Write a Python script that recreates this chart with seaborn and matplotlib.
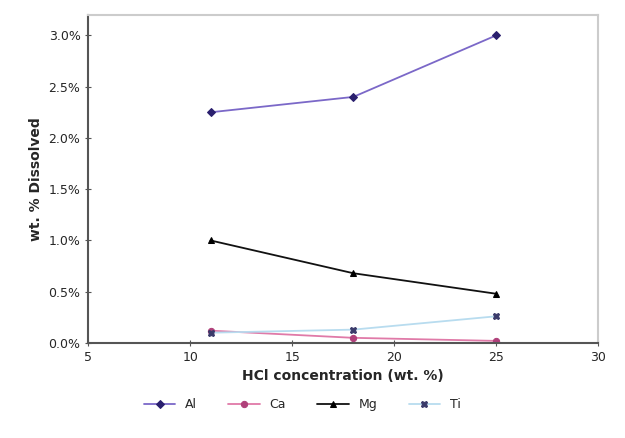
import pandas as pd
import matplotlib
matplotlib.use("Agg")
import matplotlib.pyplot as plt
import seaborn as sns
from matplotlib.ticker import PercentFormatter

# Values
hcl = [11, 18, 25]
al = [2.25, 2.40, 3.00]
ca = [0.12, 0.05, 0.02]
mg = [1.00, 0.68, 0.48]
ti = [0.10, 0.13, 0.26]

rows = []
for name, vals in [("Al", al), ("Ca", ca), ("Mg", mg), ("Ti", ti)]:
    for x, v in zip(hcl, vals):
        rows.append({"HCl": x, "value": v / 100, "metal": name})
df = pd.DataFrame(rows)

sns.set_style("white")
plt.rcParams["font.family"] = ["DejaVu Sans"]

fig = plt.figure(figsize=(6.25, 4.38), dpi=100)
ax = fig.add_axes([0.141, 0.217, 0.816, 0.749])

palette = {"Al": "#7b68c8", "Ca": "#e07aa8", "Mg": "#111111", "Ti": "#b8dcef"}
markers = {"Al": "D", "Ca": "o", "Mg": "^", "Ti": "X"}
mcolors = {"Al": "#2a1f6e", "Ca": "#b0407a", "Mg": "#000000", "Ti": "#3a3a6a"}

for name in ["Al", "Ca", "Mg", "Ti"]:
    sub = df[df["metal"] == name]
    sns.lineplot(
        data=sub, x="HCl", y="value", ax=ax,
        color=palette[name], marker=markers[name], markersize=4.5,
        markerfacecolor=mcolors[name], markeredgecolor=mcolors[name],
        linewidth=1.3, label=name
    )

ax.set_xlim(5, 30)
ax.set_ylim(0, 0.032)
ax.set_xticks([5, 10, 15, 20, 25, 30])
ax.set_yticks([0, 0.005, 0.01, 0.015, 0.02, 0.025, 0.03])
ax.yaxis.set_major_formatter(PercentFormatter(1.0, decimals=1))
ax.tick_params(axis="both", labelsize=9, length=4, direction="inout", color="#555555")
ax.tick_params(axis="y", left=True)
ax.tick_params(axis="x", bottom=True)

for side in ["left", "bottom"]:
    ax.spines[side].set_color("#555555")
    ax.spines[side].set_linewidth(1.5)
for side in ["top", "right"]:
    ax.spines[side].set_color("#cccccc")
    ax.spines[side].set_linewidth(1.5)

ax.set_xlabel("HCl concentration (wt. %)", fontsize=10, fontweight="bold")
ax.set_ylabel("wt. % Dissolved", fontsize=10, fontweight="bold")

ax.legend(loc="upper center", bbox_to_anchor=(0.42, -0.135), ncol=4,
          frameon=False, fontsize=9, handlelength=2.5, columnspacing=2.5)

fig.savefig("out.png", dpi=100)
